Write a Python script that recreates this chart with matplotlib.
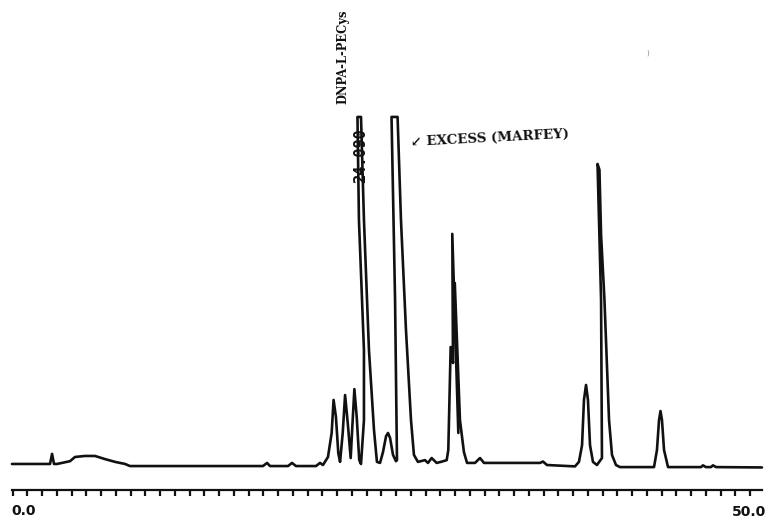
import numpy as np
import matplotlib
matplotlib.use('Agg')
import matplotlib.pyplot as plt

# chromatogram trace
# time in minutes, signal in % of full scale (off-scale peaks clip at 100)
time_min = [
    -0.05, 2.53, 2.67, 2.80, 3.00, 3.34, 3.89, 4.22, 4.90, 5.58,
    6.26, 6.94, 7.62, 7.95, 16.97, 17.25, 17.45, 18.67, 18.94, 19.21,
    20.57, 20.84, 21.04, 21.38, 21.63, 21.76, 21.92, 22.08, 22.20, 22.38,
    22.54, 22.72, 22.92, 23.03, 23.17, 23.33, 23.50, 23.62, 23.82, 23.82,
    23.48, 23.38, 23.62, 23.82, 24.16, 24.50, 24.70, 24.91, 25.11, 25.32,
    25.45, 25.59, 25.79, 25.99, 26.06, 25.93, 25.69, 26.10, 26.33, 26.67,
    27.01, 27.21, 27.48, 27.96, 28.16, 28.41, 28.75, 29.04, 29.43, 29.54,
    29.70, 29.86, 29.81, 30.22, 30.22, 29.98, 30.33, 30.60, 30.81, 31.35,
    31.69, 31.96, 35.76, 35.96, 36.23, 38.13, 38.40, 38.61, 38.74, 38.88,
    39.01, 39.15, 39.35, 39.62, 39.96, 39.90, 39.66, 39.79, 39.90, 40.13,
    40.44, 40.64, 40.91, 41.18, 43.49, 43.69, 43.83, 43.93, 44.03, 44.17,
    44.44, 46.68, 46.81, 47.01, 47.35, 47.49, 47.70, 50.81,
]
signal = [
    0.3, 0.3, 3.2, 0.3, 0.3, 0.6, 1.1, 2.3, 2.6, 2.6,
    1.7, 0.9, 0.3, -0.3, -0.3, 0.6, -0.3, -0.3, 0.6, -0.3,
    -0.3, 0.6, 0.0, 2.3, 9.2, 18.7, 13.8, 3.4, 0.9, 9.2,
    20.1, 12.1, 2.0, 10.9, 21.8, 13.8, 1.4, 0.3, 12.9, 33.0,
    70.4, 100, 100, 70.4, 33.0, 10.1, 0.9, 0.6, 3.7, 8.3,
    9.2, 7.8, 2.9, 1.1, 1.4, 47.4, 100, 100, 70.4, 38.8,
    12.9, 2.9, 0.9, 1.4, 0.6, 2.0, 0.6, 0.9, 1.4, 4.3,
    33.9, 29.3, 66.4, 9.2, np.nan, 52.3, 12.9, 3.7, 0.6, 0.6,
    2.0, 0.6, 0.6, 1.0, 0.0, -0.4, 0.9, 5.7, 18.7, 23.0,
    18.7, 5.7, 0.9, 0.0, 2.0, 47.4, 86.5, 84.8, 66.1, 47.4,
    12.9, 2.9, 0.0, -0.6, -0.6, 4.3, 12.9, 15.5, 12.9, 4.3,
    -0.6, -0.6, -0.1, -0.6, -0.6, -0.1, -0.6, -0.7,
]

axis_ticks = np.arange(0, 51, 1)
axis_labels = ["0.0", "50.0"]
peak_name = "DNPA-L-PECys"
peak_rt = "24.090"
excess_label = "\u2199 EXCESS (MARFEY)"

fig = plt.figure(figsize=(7.68, 5.2), dpi=100)
ax = fig.add_axes([0, 0, 1, 1])
ax.set_xlim(-0.861, 51.22)
ax.set_ylim(-15.8, 133.6)

ax.plot(time_min, signal, color='#111111', lw=1.9,
        solid_joinstyle='round', solid_capstyle='round')

# time axis drawn below the trace like the recorder scale
for s in ['top', 'left', 'right']:
    ax.spines[s].set_visible(False)
ax.spines['bottom'].set_position(('data', -7.2))
ax.spines['bottom'].set_bounds(-0.05, 50.8)
ax.spines['bottom'].set_linewidth(1.6)
ax.spines['bottom'].set_color('#111111')
ax.set_xticks(axis_ticks)
ax.set_xticklabels([])
ax.set_yticks([])
ax.tick_params(axis='x', direction='out', length=4.5, width=1.6, color='#111111')

ax.text(-0.1, -13.2, axis_labels[0], fontsize=10, fontweight='bold',
        ha='left', va='center', color='#111111')
ax.text(49.95, -13.4, axis_labels[1], fontsize=10, fontweight='bold',
        ha='center', va='center', color='#111111')

# annotations
ax.text(22.38, 117.3, peak_name, rotation=90, fontsize=8.3, fontweight='bold',
        family='DejaVu Serif', ha='center', va='center', color='#111111')
ax.text(23.6, 89, peak_rt, rotation=90, fontsize=11, fontweight='bold',
        family='DejaVu Sans Mono', ha='center', va='center', color='#111111')
ax.text(26.95, 93.8, excess_label, rotation=3, fontsize=9.6, fontweight='bold',
        family=['DejaVu Serif', 'DejaVu Sans'], ha='left', va='center',
        color='#111111')
ax.text(43.1, 118.5, ")", fontsize=5, color='#888888', ha='center', va='center')

fig.savefig('out.png', dpi=100)
